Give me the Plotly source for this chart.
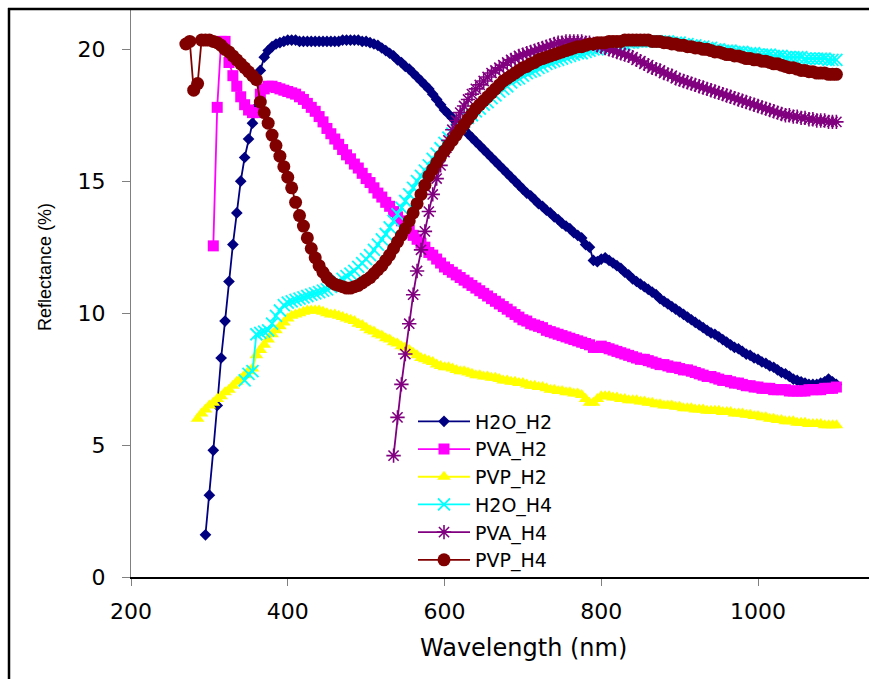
import plotly.graph_objects as go

STEP = 5
END_WL = 1100

# Series start wavelengths (nm)
start_h2o_h2 = 295
start_pva_h2 = 305
start_pvp_h2 = 285
start_h2o_h4 = 345
start_pva_h4 = 535
start_pvp_h4 = 270

h2o_h2 = [
    1.6, 3.1, 4.8, 6.5, 8.3, 9.7, 11.2, 12.6, 13.8, 15.0,
    15.9, 16.6, 17.2, 17.8, 19.2, 19.7, 19.95, 20.1, 20.2, 20.25,
    20.3, 20.35, 20.35, 20.35, 20.3, 20.3, 20.3, 20.3, 20.3, 20.3,
    20.3, 20.3, 20.3, 20.3, 20.3, 20.35, 20.35, 20.35, 20.35, 20.35,
    20.3, 20.3, 20.25, 20.2, 20.15, 20.05, 19.95, 19.85, 19.75, 19.6,
    19.5, 19.35, 19.25, 19.1, 18.95, 18.8, 18.65, 18.5, 18.3, 18.1,
    17.9, 17.7, 17.55, 17.4, 17.25, 17.1, 16.95, 16.8, 16.65, 16.5,
    16.35, 16.2, 16.05, 15.9, 15.75, 15.6, 15.45, 15.3, 15.15, 15.0,
    14.85, 14.7, 14.55, 14.45, 14.3, 14.15, 14.05, 13.9, 13.8, 13.65,
    13.55, 13.4, 13.3, 13.2, 13.05, 12.95, 12.85, 12.6, 12.5, 12.0,
    11.95, 12.05, 12.1, 12.0, 11.9, 11.8, 11.7, 11.55, 11.45, 11.3,
    11.2, 11.1, 11.0, 10.9, 10.8, 10.7, 10.55, 10.45, 10.35, 10.25,
    10.15, 10.05, 9.95, 9.85, 9.75, 9.65, 9.55, 9.45, 9.35, 9.25,
    9.2, 9.1, 9.0, 8.9, 8.8, 8.7, 8.65, 8.55, 8.45, 8.4,
    8.3, 8.25, 8.15, 8.1, 8.0, 7.95, 7.85, 7.75, 7.7, 7.6,
    7.5, 7.45, 7.4, 7.35, 7.3, 7.3, 7.3, 7.35, 7.4, 7.5,
    7.4, 7.3,
]

pva_h2 = [
    12.55, 17.8, 20.3, 20.3, 19.5, 19.0, 18.6, 18.2, 17.9, 17.7,
    17.6, 17.6, 18.3, 18.5, 18.6, 18.6, 18.55, 18.5, 18.45, 18.4,
    18.35, 18.3, 18.2, 18.1, 17.95, 17.8, 17.65, 17.45, 17.25, 17.0,
    16.8, 16.6, 16.4, 16.2, 16.0, 15.85, 15.65, 15.5, 15.3, 15.1,
    14.95, 14.75, 14.55, 14.4, 14.2, 14.05, 13.85, 13.65, 13.5, 13.3,
    13.15, 12.95, 12.8, 12.65, 12.5, 12.3, 12.2, 12.05, 11.9, 11.75,
    11.65, 11.55, 11.45, 11.35, 11.25, 11.15, 11.05, 10.95, 10.85, 10.75,
    10.65, 10.55, 10.45, 10.35, 10.25, 10.15, 10.05, 9.95, 9.85, 9.75,
    9.7, 9.6, 9.55, 9.5, 9.45, 9.35, 9.3, 9.25, 9.2, 9.15,
    9.1, 9.05, 9.0, 8.95, 8.9, 8.85, 8.8, 8.7, 8.7, 8.75,
    8.7, 8.65, 8.6, 8.55, 8.5, 8.45, 8.4, 8.35, 8.3, 8.25,
    8.25, 8.2, 8.15, 8.1, 8.05, 8.05, 8.0, 7.95, 7.95, 7.9,
    7.85, 7.85, 7.8, 7.75, 7.7, 7.65, 7.6, 7.6, 7.55, 7.5,
    7.45, 7.45, 7.4, 7.35, 7.35, 7.3, 7.25, 7.25, 7.2, 7.2,
    7.15, 7.15, 7.15, 7.1, 7.1, 7.1, 7.1, 7.05, 7.05, 7.05,
    7.05, 7.05, 7.1, 7.1, 7.1, 7.1, 7.15, 7.15, 7.15, 7.2,
]

pvp_h2 = [
    6.0, 6.2, 6.35, 6.5, 6.6, 6.75, 6.85, 7.0, 7.1, 7.25,
    7.4, 7.5, 7.65, 7.8, 7.9, 8.4, 8.6, 8.8, 9.0, 9.2,
    9.35, 9.5, 9.65, 9.8, 9.9, 9.95, 10.0, 10.05, 10.1, 10.1,
    10.1, 10.1, 10.05, 10.0, 9.95, 9.95, 9.9, 9.85, 9.8, 9.75,
    9.7, 9.6, 9.55, 9.45, 9.35, 9.3, 9.2, 9.15, 9.05, 9.0,
    8.9, 8.85, 8.75, 8.7, 8.6, 8.5, 8.4, 8.3, 8.25, 8.2,
    8.15, 8.05, 8.0, 7.95, 7.95, 7.9, 7.85, 7.8, 7.8, 7.75,
    7.7, 7.65, 7.65, 7.6, 7.6, 7.55, 7.55, 7.5, 7.45, 7.45,
    7.4, 7.4, 7.35, 7.35, 7.3, 7.25, 7.25, 7.2, 7.2, 7.15,
    7.1, 7.1, 7.05, 7.05, 7.0, 7.0, 6.95, 6.95, 6.9, 6.75,
    6.6, 6.6, 6.75, 6.85, 6.85, 6.85, 6.8, 6.8, 6.75, 6.75,
    6.7, 6.7, 6.7, 6.65, 6.65, 6.6, 6.6, 6.55, 6.55, 6.5,
    6.5, 6.5, 6.45, 6.45, 6.4, 6.4, 6.4, 6.35, 6.35, 6.35,
    6.3, 6.3, 6.3, 6.3, 6.25, 6.25, 6.25, 6.2, 6.2, 6.2,
    6.15, 6.15, 6.1, 6.1, 6.05, 6.05, 6.0, 6.0, 5.95, 5.95,
    5.9, 5.9, 5.9, 5.85, 5.85, 5.85, 5.8, 5.8, 5.8, 5.8,
    5.75, 5.75, 5.75, 5.75,
]

h2o_h4 = [
    7.45, 7.7, 7.8, 9.2, 9.25, 9.3, 9.35, 9.6, 9.9, 10.1,
    10.3, 10.4, 10.45, 10.5, 10.55, 10.6, 10.65, 10.7, 10.75, 10.8,
    10.85, 10.9, 11.0, 11.1, 11.2, 11.3, 11.4, 11.5, 11.6, 11.75,
    11.9, 12.05, 12.2, 12.4, 12.6, 12.8, 13.0, 13.25, 13.5, 13.75,
    14.0, 14.25, 14.5, 14.75, 15.0, 15.2, 15.4, 15.6, 15.85, 16.05,
    16.25, 16.45, 16.65, 16.8, 16.95, 17.1, 17.25, 17.4, 17.5, 17.65,
    17.75, 17.9, 18.0, 18.15, 18.25, 18.4, 18.5, 18.6, 18.75, 18.85,
    18.9, 19.0, 19.1, 19.15, 19.2, 19.3, 19.35, 19.45, 19.5, 19.55,
    19.6, 19.65, 19.7, 19.75, 19.8, 19.85, 19.85, 19.9, 19.95, 20.0,
    20.0, 20.05, 20.1, 20.1, 20.15, 20.15, 20.2, 20.2, 20.25, 20.25,
    20.3, 20.3, 20.3, 20.3, 20.3, 20.3, 20.3, 20.3, 20.3, 20.25,
    20.25, 20.25, 20.2, 20.2, 20.15, 20.15, 20.1, 20.1, 20.05, 20.05,
    20.0, 20.0, 19.95, 19.95, 19.95, 19.9, 19.9, 19.9, 19.85, 19.85,
    19.85, 19.8, 19.8, 19.8, 19.8, 19.75, 19.75, 19.75, 19.7, 19.7,
    19.7, 19.7, 19.7, 19.65, 19.65, 19.65, 19.65, 19.65, 19.65, 19.6,
    19.6, 19.6,
]

pva_h4 = [
    4.6, 6.05, 7.3, 8.45, 9.6, 10.7, 11.6, 12.4, 13.1, 13.85,
    14.5, 15.1, 15.6, 16.1, 16.55, 16.95, 17.3, 17.6, 17.85, 18.1,
    18.3, 18.5, 18.65, 18.8, 18.95, 19.1, 19.2, 19.3, 19.4, 19.5,
    19.6, 19.65, 19.75, 19.8, 19.85, 19.9, 19.95, 20.0, 20.05, 20.1,
    20.15, 20.2, 20.25, 20.25, 20.3, 20.3, 20.3, 20.3, 20.3, 20.25,
    20.25, 20.2, 20.15, 20.1, 20.05, 20.0, 19.95, 19.9, 19.85, 19.8,
    19.75, 19.7, 19.6, 19.55, 19.45, 19.4, 19.3, 19.25, 19.2, 19.1,
    19.05, 19.0, 18.9, 18.85, 18.8, 18.75, 18.7, 18.65, 18.6, 18.55,
    18.5, 18.45, 18.4, 18.35, 18.3, 18.25, 18.2, 18.15, 18.1, 18.05,
    18.0, 17.95, 17.9, 17.85, 17.8, 17.75, 17.7, 17.65, 17.6, 17.55,
    17.5, 17.5, 17.45, 17.45, 17.4, 17.4, 17.35, 17.35, 17.3, 17.3,
    17.3, 17.25, 17.25, 17.25,
]

pvp_h4 = [
    20.2, 20.3, 18.45, 18.7, 20.35, 20.35, 20.35, 20.3, 20.25, 20.15,
    20.0, 19.9, 19.75, 19.6, 19.45, 19.3, 19.15, 19.0, 18.85, 18.0,
    17.6, 17.2, 16.75, 16.35, 15.95, 15.55, 15.15, 14.75, 14.2, 13.7,
    13.3, 12.85, 12.45, 12.1, 11.8, 11.55, 11.35, 11.2, 11.1, 11.05,
    11.0, 10.95, 10.95, 11.0, 11.05, 11.15, 11.25, 11.35, 11.5, 11.65,
    11.8, 12.0, 12.2, 12.45, 12.7, 12.95, 13.2, 13.5, 13.8, 14.15,
    14.5, 14.85, 15.2, 15.45, 15.7, 15.95, 16.15, 16.35, 16.55, 16.75,
    16.95, 17.15, 17.35, 17.55, 17.75, 17.9, 18.05, 18.2, 18.35, 18.5,
    18.65, 18.8, 18.9, 19.0, 19.1, 19.2, 19.3, 19.35, 19.45, 19.5,
    19.6, 19.65, 19.7, 19.75, 19.8, 19.85, 19.9, 19.95, 20.0, 20.05,
    20.1, 20.1, 20.15, 20.2, 20.2, 20.25, 20.25, 20.25, 20.3, 20.3,
    20.3, 20.3, 20.35, 20.35, 20.35, 20.35, 20.35, 20.35, 20.35, 20.3,
    20.3, 20.3, 20.25, 20.25, 20.2, 20.2, 20.15, 20.15, 20.1, 20.1,
    20.05, 20.05, 20.0, 20.0, 19.95, 19.9, 19.9, 19.85, 19.8, 19.8,
    19.75, 19.75, 19.7, 19.65, 19.65, 19.6, 19.6, 19.55, 19.55, 19.5,
    19.45, 19.45, 19.4, 19.35, 19.3, 19.3, 19.25, 19.2, 19.2, 19.15,
    19.15, 19.1, 19.1, 19.1, 19.05, 19.05, 19.05,
]

x_ticks = [200, 400, 600, 800, 1000]
y_ticks = [0, 5, 10, 15, 20]

FONT_WIDE = "'DejaVu Sans', Verdana, sans-serif"
FONT = "Arial, 'Liberation Sans', sans-serif"

# figure geometry (pixels)
W, H = 869, 679
ML, MR, MT, MB = 131, 0, 9, 102
PW, PH = W - ML - MR, H - MT - MB


def px_x(p):
    return (p - ML) / PW


def px_y(p):
    return (H - MB - p) / PH


def wl(start, n):
    return list(range(start, start + STEP * n, STEP))


series = [
    ("H2O_H2", start_h2o_h2, h2o_h2, "#000080",
     dict(symbol="diamond", size=9, color="#000080")),
    ("PVA_H2", start_pva_h2, pva_h2, "#FF00FF",
     dict(symbol="square", size=11, color="#FF00FF")),
    ("PVP_H2", start_pvp_h2, pvp_h2, "#FFFF00",
     dict(symbol="triangle-up", size=12, color="#FFFF00")),
    ("H2O_H4", start_h2o_h4, h2o_h4, "#00FFFF",
     dict(symbol="x-thin-open", size=12, color="#00FFFF",
          line=dict(color="#00FFFF", width=1.8))),
    ("PVA_H4", start_pva_h4, pva_h4, "#800080",
     dict(symbol="asterisk-open", size=12, color="#800080",
          line=dict(color="#800080", width=1.6))),
    ("PVP_H4", start_pvp_h4, pvp_h4, "#800000",
     dict(symbol="circle", size=13, color="#800000")),
]

fig = go.Figure()
for name, st, vals, col, mk in series:
    fig.add_trace(go.Scatter(
        x=wl(st, len(vals)), y=vals, name=name, mode="lines+markers",
        line=dict(color=col, width=1.8), marker=mk,
    ))

fig.update_layout(
    width=W, height=H,
    margin=dict(l=ML, r=MR, t=MT, b=MB, pad=0),
    paper_bgcolor="white", plot_bgcolor="white",
    font=dict(family=FONT_WIDE, color="black", size=20),
    showlegend=True,
    legend=dict(
        x=px_x(413), y=px_y(402.5), xanchor="left", yanchor="top",
        bgcolor="rgba(0,0,0,0)", borderwidth=0,
        font=dict(family=FONT_WIDE, size=19, color="black"),
        itemwidth=52, tracegroupgap=0,
    ),
    xaxis=dict(
        range=[200, 200 + PW / (627.0 / 800.0)],
        tickvals=x_ticks, ticktext=[str(v) for v in x_ticks],
        showgrid=False, zeroline=False,
        showline=True, linecolor="black", linewidth=1.5,
        ticks="outside", ticklen=7, tickwidth=1, tickcolor="#808080",
        tickfont=dict(family=FONT_WIDE, size=22, color="black"),
        ticklabelstandoff=7,
    ),
    yaxis=dict(
        range=[0, PH / (527.7 / 20.0)],
        tickvals=y_ticks, ticktext=[str(v) for v in y_ticks],
        showgrid=False, zeroline=False,
        showline=True, linecolor="#808080", linewidth=1,
        ticks="outside", ticklen=8, tickwidth=1, tickcolor="#808080",
        tickfont=dict(family=FONT_WIDE, size=22, color="black"),
        ticklabelstandoff=12,
    ),
)

# axis titles
fig.add_annotation(
    text="Wavelength (nm)", xref="paper", yref="paper",
    x=px_x(523), y=px_y(648), xanchor="center", yanchor="middle",
    showarrow=False, font=dict(family=FONT_WIDE, size=24, color="black"),
)
fig.add_annotation(
    text="Reflectance (%)", xref="paper", yref="paper",
    x=px_x(45), y=px_y(267), xanchor="center", yanchor="middle",
    textangle=-90, showarrow=False,
    font=dict(family=FONT, size=18, color="black"),
)

# outer chart frame (cropped: only left and top edges visible)
fig.add_shape(type="line", xref="paper", yref="paper",
              x0=px_x(9), x1=px_x(9), y0=px_y(8), y1=0 - MB / PH,
              line=dict(color="black", width=2.5))
fig.add_shape(type="line", xref="paper", yref="paper",
              x0=px_x(8), x1=1.0, y0=px_y(9), y1=px_y(9),
              line=dict(color="black", width=2.5))

fig.write_html(
    "out.html",
    config={"displayModeBar": False},
    post_script="var de=document.documentElement, b=document.body;"
                "de.style.overflow='hidden'; de.style.scrollbarWidth='none';"
                "b.style.margin='0px'; b.style.overflow='hidden';"
                "b.style.height='679px';",
)
